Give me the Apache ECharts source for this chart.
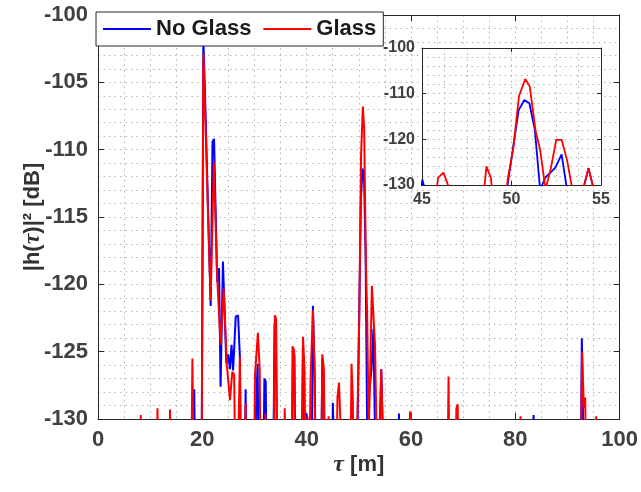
<!DOCTYPE html>
<html>
<head>
<meta charset="utf-8">
<script src="https://cdn.jsdelivr.net/npm/echarts@6.0.0/dist/echarts.min.js"></script>
<style>
html, body { margin: 0; padding: 0; background: #fff; }
#delay_profile_chart { width: 641px; height: 492px; }
</style>
</head>
<body>
<div id="delay_profile_chart"></div>
<script>
// [tau (m), |h(tau)|^2 (dB)], -140 means the tap is under the -130 dB floor (clipped by the axis)
var no_glass = [
    [0, -140],
    [18.1, -140], [18.45, -127.8], [18.8, -140],
    [19.8, -140], [20.2, -101.8], [20.6, -107], [21.1, -114.5], [21.6, -121.6], [21.95, -109.4], [22.25, -109.2],
    [22.85, -119.8], [23.2, -118.8], [23.5, -127.6], [23.95, -118.3], [24.6, -125.9], [24.95, -125.2], [25.3, -126.3],
    [25.6, -124.5], [25.9, -126.4], [26.4, -122.4], [26.85, -122.3], [27.2, -125.4], [27.5, -140],
    [27.95, -140], [28.3, -127.8], [28.6, -140],
    [29.9, -140], [30.3, -129.1], [30.6, -125.9], [30.95, -140],
    [31.55, -140], [31.9, -127.0], [32.15, -127.2], [32.5, -140],
    [33.45, -140], [33.85, -122.9], [34.1, -123.5], [34.45, -140],
    [37.0, -140], [37.4, -125.0], [37.65, -125.3], [38.0, -140],
    [38.9, -140], [39.3, -124.3], [39.65, -140], [40.0, -129.6], [40.35, -140],
    [40.85, -140], [41.2, -121.6], [41.55, -127], [41.9, -140],
    [42.65, -140], [43.0, -125.5], [43.3, -127], [43.6, -140],
    [44.7, -140], [45.02, -128.8], [45.35, -134],
    [49.45, -140], [49.8, -129.5], [50.1, -121.5], [50.4, -113.6], [50.72, -111.4], [51.0, -112.1], [51.3, -117.8],
    [51.6, -131], [51.9, -128.3], [52.15, -127.4], [52.45, -126.2], [52.8, -123.3], [53.1, -131], [53.4, -140],
    [54.0, -131], [54.3, -126.3], [54.6, -131], [54.9, -140],
    [57.35, -140], [57.7, -129.6], [58.05, -140],
    [83.15, -140], [83.5, -129.7], [83.85, -140],
    [92.4, -140], [92.75, -124.0], [93.05, -124.0], [93.4, -140],
    [100, -140]
];
var glass = [
    [0, -140],
    [7.85, -140], [8.2, -129.7], [8.55, -140],
    [11.05, -140], [11.4, -129.2], [11.75, -140],
    [13.45, -140], [13.8, -129.3], [14.15, -140],
    [17.75, -140], [18.1, -125.5], [18.45, -140],
    [19.8, -140], [20.2, -102.9], [20.6, -108], [21.1, -115], [21.6, -121.2], [22.2, -110.9], [22.85, -119.5],
    [23.5, -124.5], [24.1, -120.3], [24.7, -126], [25.3, -128.6], [25.75, -126.5], [26.1, -126.7], [26.5, -140],
    [26.85, -140], [27.2, -125.4], [27.55, -140],
    [27.95, -140], [28.3, -128.8], [28.65, -140],
    [29.75, -140], [30.1, -126.7], [30.65, -123.6], [31.0, -126.3], [31.3, -140],
    [31.75, -140], [32.1, -129.6], [32.45, -140],
    [33.5, -140], [33.9, -122.3], [34.15, -122.6], [34.5, -140],
    [35.45, -140], [35.8, -129.2], [36.15, -140],
    [36.95, -140], [37.3, -124.6], [37.6, -124.9], [37.95, -140],
    [38.95, -140], [39.3, -123.9], [39.6, -126.5], [39.9, -140], [40.15, -129.8], [40.35, -140],
    [40.75, -127.0], [41.2, -121.9], [41.5, -126], [41.8, -140],
    [42.65, -140], [43.0, -125.2], [43.3, -126.3], [43.6, -140],
    [43.95, -140], [44.2, -129.8], [44.45, -140],
    [45.55, -140], [45.9, -128.4], [46.2, -127.3], [46.5, -130.5], [46.8, -140],
    [48.25, -140], [48.6, -125.9], [48.85, -128.5], [49.15, -140],
    [49.45, -140], [49.8, -128.5], [50.1, -122], [50.42, -110.5], [50.77, -106.8], [51.02, -108.4], [51.35, -118.3],
    [51.6, -122.3], [51.9, -131], [52.2, -126.3], [52.5, -120.1], [52.8, -120.1], [53.1, -124.5], [53.4, -131], [53.7, -140],
    [54.0, -131], [54.3, -126.3], [54.6, -131], [54.9, -140],
    [59.45, -140], [59.8, -129.45], [60.0, -129.7], [60.3, -140],
    [66.85, -140], [67.2, -126.85], [67.5, -140],
    [68.4, -140], [68.7, -129.2], [68.95, -128.9], [69.3, -140],
    [80.7, -140], [81.0, -129.8], [81.3, -140],
    [92.4, -140], [92.8, -125.0], [93.15, -129.2], [93.4, -128.4], [93.7, -140],
    [95.2, -140], [95.5, -129.8], [95.8, -140],
    [100, -140]
];
// [min, max, step, minor splits]
var main_tau_axis = [0, 100, 20, 4];
var main_db_axis = [-130, -100, 5, 5];
var inset_tau_axis = [45, 55, 5, 4];
var inset_db_axis = [-130, -100, 10, 5];
var legend_names = ['No Glass', 'Glass'];

var font = '"Liberation Sans", Arial, Helvetica, sans-serif';
var box_color = '#262626';
var grid_line = { color: '#b4b4b4', width: 1, type: [1.5, 4] };

function make_axis(grid, pos, range, label_size, tick_len, is_mirror, z){
    return {
        type: 'value',
        gridIndex: grid,
        position: pos,
        min: range[0],
        max: range[1],
        interval: range[2],
        z: z,
        axisLine: { show: true, onZero: false, lineStyle: { color: box_color, width: 1 } },
        axisTick: { show: true, inside: true, length: tick_len, lineStyle: { color: box_color, width: 1 } },
        axisLabel: {
            show: !is_mirror,
            fontSize: label_size,
            fontWeight: 'bold',
            fontFamily: font,
            color: '#404040',
            margin: grid == 0 ? 10 : 7,
            showMinLabel: true,
            showMaxLabel: true
        },
        splitLine: { show: !is_mirror, lineStyle: grid_line },
        minorTick: { show: false, splitNumber: range[3] },
        minorSplitLine: { show: !is_mirror, lineStyle: grid_line }
    };
}

function make_line(name, data, color, axis_index, width, z){
    return {
        name: name,
        type: 'line',
        xAxisIndex: axis_index,
        yAxisIndex: axis_index,
        data: data,
        symbol: 'none',
        showSymbol: false,
        clip: true,
        silent: true,
        z: z,
        lineStyle: { color: color, width: width },
        itemStyle: { color: color }
    };
}

var x_axes = [
    make_axis(0, 'bottom', main_tau_axis, 22, 6, false, 0),
    make_axis(0, 'top', main_tau_axis, 22, 6, true, 0),
    make_axis(1, 'bottom', inset_tau_axis, 16, 4, false, 2),
    make_axis(1, 'top', inset_tau_axis, 16, 4, true, 2)
];
var y_axes = [
    make_axis(0, 'left', main_db_axis, 22, 6, false, 0),
    make_axis(0, 'right', main_db_axis, 22, 6, true, 0),
    make_axis(1, 'left', inset_db_axis, 16, 4, false, 2),
    make_axis(1, 'right', inset_db_axis, 16, 4, true, 2)
];

x_axes[0].name = '{i|τ} [m]';
x_axes[0].nameLocation = 'middle';
x_axes[0].nameGap = 34;
x_axes[0].nameMoveOverlap = false;
x_axes[0].nameTextStyle = {
    fontSize: 22, fontWeight: 'bold', fontFamily: font, color: '#333',
    rich: { i: { fontSize: 24, fontStyle: 'italic', fontFamily: '"Liberation Serif", serif', color: '#333' } }
};
y_axes[0].name = '|h({i|τ})|² [dB]';
y_axes[0].nameLocation = 'middle';
y_axes[0].nameGap = 53;
y_axes[0].nameMoveOverlap = false;
y_axes[0].nameTextStyle = {
    fontSize: 22, fontWeight: 'bold', fontFamily: font, color: '#333',
    rich: { i: { fontSize: 24, fontStyle: 'italic', fontFamily: '"Liberation Serif", serif', color: '#333' } }
};

var chart = echarts.init(document.getElementById('delay_profile_chart'), null, { renderer: 'canvas' });
var option = {
    animation: false,
    backgroundColor: '#fff',
    grid: [
        { left: 98, top: 15, width: 522, height: 404 },
        { left: 422, top: 48, width: 179, height: 137, show: true, backgroundColor: '#fff', borderWidth: 0, z: 1 }
    ],
    legend: {
        data: legend_names,
        left: 96,
        top: 12,
        padding: [5, 7, 5, 7],
        itemGap: 12,
        itemWidth: 48,
        itemHeight: 2,
        icon: 'rect',
        backgroundColor: '#fff',
        borderColor: box_color,
        borderWidth: 1,
        z: 10,
        textStyle: { fontSize: 22, fontWeight: 'bold', fontFamily: font, color: '#1a1a1a', lineHeight: 24 }
    },
    xAxis: x_axes,
    yAxis: y_axes,
    series: [
        make_line('No Glass', no_glass, '#0000ff', 0, 2, 2),
        make_line('Glass', glass, '#ff0000', 0, 2, 3),
        make_line('No Glass', no_glass, '#0000ff', 2, 1.8, 4),
        make_line('Glass', glass, '#ff0000', 2, 1.8, 5)
    ]
};
chart.setOption(option, true);
</script>
</body>
</html>
